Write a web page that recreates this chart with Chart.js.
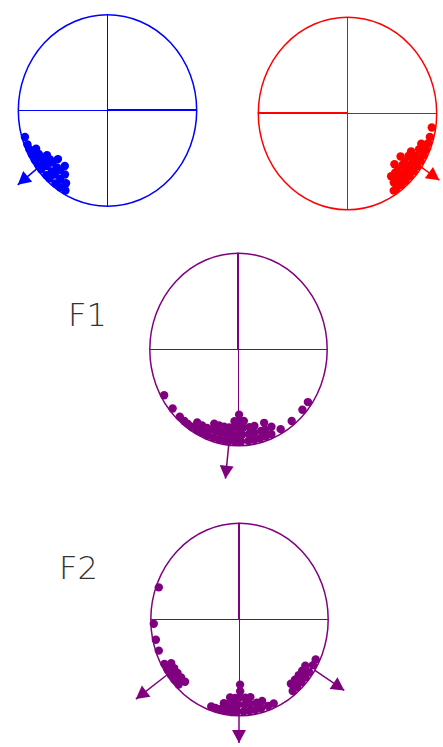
<!DOCTYPE html>
<html><head><meta charset="utf-8">
<script src="https://cdn.jsdelivr.net/npm/chart.js@4"></script>
<style>
html,body{margin:0;padding:0;background:#fff;width:443px;height:747px;overflow:hidden;position:relative}
canvas{position:absolute}
.lbl{position:absolute;font-family:"DejaVu Sans";font-weight:200;font-size:32px;line-height:1;color:#333;white-space:nowrap}
</style></head><body>
<div class="lbl" style="left:68px;top:299px">F1</div>
<div class="lbl" style="left:59px;top:552px">F2</div>
<script>
// ---- data (angles in degrees, counter-clockwise from east) ----
const anglesBlue = [197, 202, 205, 207, 209, 211, 213, 214, 215, 217, 218, 219, 220, 221, 222, 223, 225, 226, 227, 228, 229, 230, 231, 233, 234, 235, 237, 239, 241];
const anglesRed = [351, 345, 341, 337, 339, 333, 335, 329, 330, 331, 325, 326, 327, 321, 322, 322, 323, 317, 318, 319, 313, 314, 314, 315, 309, 310, 311, 305, 306, 307, 303];
const anglesF1 = [210, 220, 227, 231, 234, 237, 239, 241, 243, 245, 247, 249, 250, 251, 253, 254, 255, 257, 258, 259, 261, 262, 263, 264, 265, 266, 267, 268, 269, 270, 271, 271, 272, 273, 274, 275, 277, 278, 279, 281, 282, 283, 285, 287, 289, 290, 291, 293, 295, 300, 309, 319, 325];
const anglesF2 = [160, 183, 193, 200, 209, 211, 213, 215, 217, 219, 221, 223, 225, 227, 251, 254, 257, 259, 261, 262, 263, 265, 266, 267, 268, 269, 270, 271, 271, 273, 274, 275, 277, 278, 279, 281, 283, 285, 287, 290, 294, 309, 311, 313, 315, 317, 319, 321, 323, 325, 327, 330, 334];
// mean-direction arrows: angle (deg) and length beyond the circle (radius units)
const arrowAnglesBlue = [218];      const arrowLengthsBlue = [0.27];
const arrowAnglesRed = [326];       const arrowLengthsRed = [0.25];
const arrowAnglesF1 = [264];        const arrowLengthsF1 = [0.355];
const arrowAnglesF2 = [215.6, 270, 328]; const arrowLengthsF2 = [0.43, 0.29, 0.40];

// ---- layout / style ----
const plots = [
  {angles: anglesBlue, arrA: arrowAnglesBlue, arrL: arrowLengthsBlue, color: '#0000ff', cx: 107, cy: 110, rx: 92, ry: 98.5, zero: 0},
  {angles: anglesRed, arrA: arrowAnglesRed, arrL: arrowLengthsRed, color: '#ff0000', cx: 347, cy: 113, rx: 92, ry: 99, zero: 180},
  {angles: anglesF1, arrA: arrowAnglesF1, arrL: arrowLengthsF1, color: '#800080', cx: 238, cy: 349, rx: 91.5, ry: 99, zero: 90},
  {angles: anglesF2, arrA: arrowAnglesF2, arrL: arrowLengthsF2, color: '#800080', cx: 239, cy: 619, rx: 91.5, ry: 99, zero: 90}
];
const LIM = 1.5, BIN = 4, BASE = 0.962, SEP = 0.07;

function stackPoints(angles) {
  const counts = {};
  return angles.map(a => {
    const b = Math.floor(a / BIN);
    const k = counts[b] || 0; counts[b] = k + 1;
    const r = BASE - k * SEP, t = a * Math.PI / 180;
    return {x: r * Math.cos(t), y: r * Math.sin(t)};
  });
}
function polar(a, r) { const t = a * Math.PI / 180; return {x: r * Math.cos(t), y: r * Math.sin(t)}; }

const circlePlugin = {
  id: 'circleFrame',
  beforeDatasetsDraw(chart, args, opts) {
    const {ctx, scales: {x, y}} = chart;
    const cx = x.getPixelForValue(0) + 0.5, cy = y.getPixelForValue(0) + 0.5;
    const rx = x.getPixelForValue(1) - x.getPixelForValue(0), ry = y.getPixelForValue(0) - y.getPixelForValue(1);
    ctx.save();
    ctx.strokeStyle = opts.color;
    ctx.lineWidth = 1;
    ctx.beginPath();
    ctx.moveTo(cx - rx, cy); ctx.lineTo(cx + rx, cy);
    ctx.moveTo(cx, cy - ry); ctx.lineTo(cx, cy + ry);
    ctx.stroke();
    // zero-direction half emphasised
    const z = polar(opts.zero, 1);
    ctx.lineWidth = 2;
    ctx.beginPath();
    ctx.moveTo(cx - 0.5, cy - 0.5);
    ctx.lineTo(cx - 0.5 + z.x * rx, cy - 0.5 - z.y * ry);
    ctx.stroke();
    ctx.lineWidth = 1.5;
    ctx.beginPath();
    ctx.ellipse(cx, cy, rx, ry, 0, 0, Math.PI * 2);
    ctx.stroke();
    ctx.restore();
  },
  afterDatasetsDraw(chart, args, opts) {
    const ctx = chart.ctx;
    chart.data.datasets.forEach((ds, i) => {
      if (!ds.isArrow) return;
      const pts = chart.getDatasetMeta(i).data;
      const a = pts[0], b = pts[pts.length - 1];
      const dx = b.x - a.x, dy = b.y - a.y, len = Math.hypot(dx, dy);
      const ux = dx / len, uy = dy / len, hl = 13, hw = 7;
      ctx.save();
      ctx.fillStyle = opts.color;
      ctx.beginPath();
      ctx.moveTo(b.x, b.y);
      ctx.lineTo(b.x - ux * hl - uy * hw, b.y - uy * hl + ux * hw);
      ctx.lineTo(b.x - ux * hl + uy * hw, b.y - uy * hl - ux * hw);
      ctx.closePath();
      ctx.fill();
      ctx.restore();
    });
  }
};

plots.forEach(p => {
  const c = document.createElement('canvas');
  const hw = Math.round(LIM * p.rx), hh = Math.round(LIM * p.ry);
  const w = 2 * hw, h = 2 * hh;
  const xLim = hw / p.rx, yLim = hh / p.ry;
  c.width = w; c.height = h;
  c.style.width = w + 'px'; c.style.height = h + 'px';
  c.style.left = (p.cx - hw) + 'px'; c.style.top = (p.cy - hh) + 'px';
  document.body.appendChild(c);
  const datasets = [{
    data: stackPoints(p.angles),
    backgroundColor: p.color, borderColor: p.color, borderWidth: 0,
    pointRadius: 4.2, showLine: false
  }];
  p.arrA.forEach((a, i) => {
    datasets.push({
      isArrow: true,
      data: [polar(a, 1), polar(a, 1 + p.arrL[i])],
      showLine: true, borderColor: p.color, borderWidth: 1.5,
      pointRadius: 0, fill: false
    });
  });
  new Chart(c, {
    type: 'scatter',
    data: {datasets},
    options: {
      responsive: false, animation: false, events: [],
      layout: {padding: 0},
      plugins: {legend: {display: false}, tooltip: {enabled: false}, circleFrame: {color: p.color, zero: p.zero}},
      scales: {
        x: {type: 'linear', min: -xLim, max: xLim, display: false},
        y: {type: 'linear', min: -yLim, max: yLim, display: false}
      }
    },
    plugins: [circlePlugin]
  });
});
</script>
</body></html>
